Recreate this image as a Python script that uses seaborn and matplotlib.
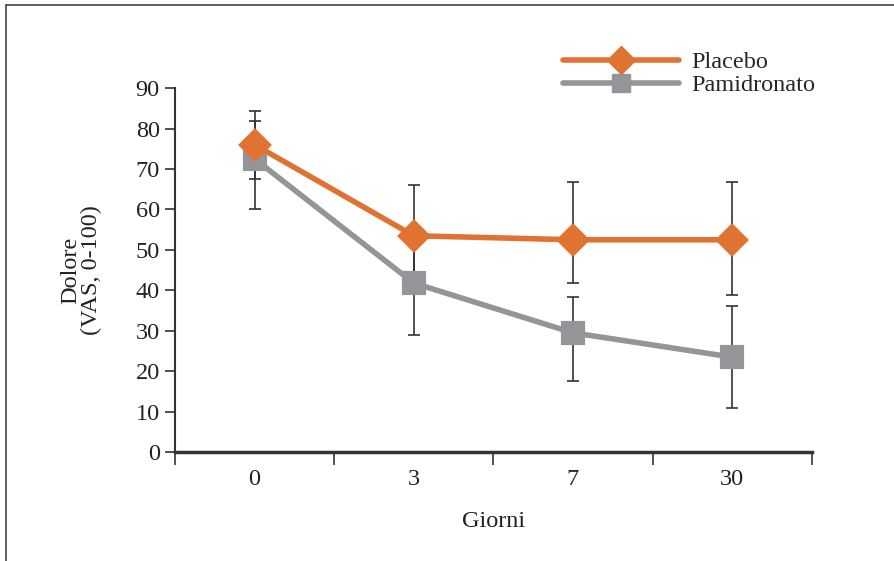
import matplotlib.pyplot as plt
import numpy as np
import pandas as pd
import seaborn as sb
from matplotlib.lines import Line2D

giorni = ["0", "3", "7", "30"]
placebo = [76.0, 53.5, 52.5, 52.5]
placebo_err_hi = [8.3, 12.5, 14.3, 14.3]
placebo_err_lo = [8.4, 12.5, 10.7, 13.7]
pamidronato = [72.5, 41.8, 29.5, 23.5]
pamidronato_err_hi = [9.3, 13.0, 8.8, 12.6]
pamidronato_err_lo = [12.4, 12.9, 11.9, 12.6]

orange = "#E07232"
grey = "#939598"
fs = 17.5

if __name__ == "__main__":
    sb.set_style("ticks")
    plt.rcParams["font.family"] = ["Liberation Serif", "DejaVu Serif"]
    plt.rcParams["font.size"] = fs

    df = pd.DataFrame({
        "Giorni": giorni * 2,
        "Dolore": placebo + pamidronato,
        "Gruppo": ["Placebo"] * 4 + ["Pamidronato"] * 4,
    })

    fig = plt.figure(figsize=(8.95, 5.61), dpi=100)
    ax = fig.add_axes([0.1955, 0.194, 0.7115, 0.649])

    # error bars first so the markers sit on top
    ax.errorbar(giorni, placebo, yerr=[placebo_err_lo, placebo_err_hi], fmt="none",
                ecolor="#333333", elinewidth=1.2, capsize=4.5, capthick=1.2, zorder=1)
    ax.errorbar(giorni, pamidronato, yerr=[pamidronato_err_lo, pamidronato_err_hi], fmt="none",
                ecolor="#333333", elinewidth=1.2, capsize=4.5, capthick=1.2, zorder=1)

    sb.pointplot(data=df, x="Giorni", y="Dolore", hue="Gruppo", order=giorni,
                 hue_order=["Pamidronato", "Placebo"], palette=[grey, orange],
                 markers=["s", "D"], linestyles=["-", "-"], errorbar=None,
                 markersize=15, linewidth=4, ax=ax, legend=False)
    for ln in ax.lines:
        if ln.get_marker() == "D":
            ln.set_markersize(14)
            ln.set_zorder(4)
        elif ln.get_marker() == "s":
            ln.set_zorder(3)

    ax.set_ylim(0, 90)
    ax.set_yticks(range(0, 100, 10))
    ax.set_xlim(-0.5, 3.5)
    ax.set_xticks(np.arange(-0.5, 4.0, 1.0))
    ax.set_xticklabels([])
    ax.set_xticks(range(4), minor=True)
    ax.set_xticklabels(giorni, minor=True)
    ax.tick_params(axis="x", which="minor", length=0, pad=12)
    ax.tick_params(axis="x", which="major", length=9, width=1.2, color="#333333", direction="out")
    ax.tick_params(axis="y", length=7, width=1.2, color="#333333", pad=4)
    ax.tick_params(which="both", labelsize=fs, labelcolor="#222222")

    sb.despine(ax=ax)
    ax.spines["left"].set_linewidth(1.5)
    ax.spines["left"].set_color("#333333")
    ax.spines["bottom"].set_linewidth(2.5)
    ax.spines["bottom"].set_color("#333333")

    ax.set_xlabel("Giorni", fontsize=fs, color="#222222", labelpad=15)
    ax.set_ylabel("Dolore\n(VAS, 0-100)", fontsize=fs, color="#222222", labelpad=24, linespacing=0.95)

    handles = [
        Line2D([], [], color=orange, lw=4, marker="D", markersize=14, label="Placebo"),
        Line2D([], [], color=grey, lw=4, marker="s", markersize=13, label="Pamidronato"),
    ]
    fig.legend(handles=handles, loc="upper left", bbox_to_anchor=(0.629, 0.909), frameon=False,
               fontsize=fs, handlelength=4.77, handletextpad=0.53, labelspacing=0.05,
               borderaxespad=0, borderpad=0, numpoints=1)

    # page frame
    fig.add_artist(Line2D([0.0067, 0.0067], [0, 0.991], transform=fig.transFigure, color="#444444", lw=1.2))
    fig.add_artist(Line2D([0.0067, 1.0], [0.991, 0.991], transform=fig.transFigure, color="#444444", lw=1.2))

    plt.savefig("out.png", dpi=100)
    plt.close()
